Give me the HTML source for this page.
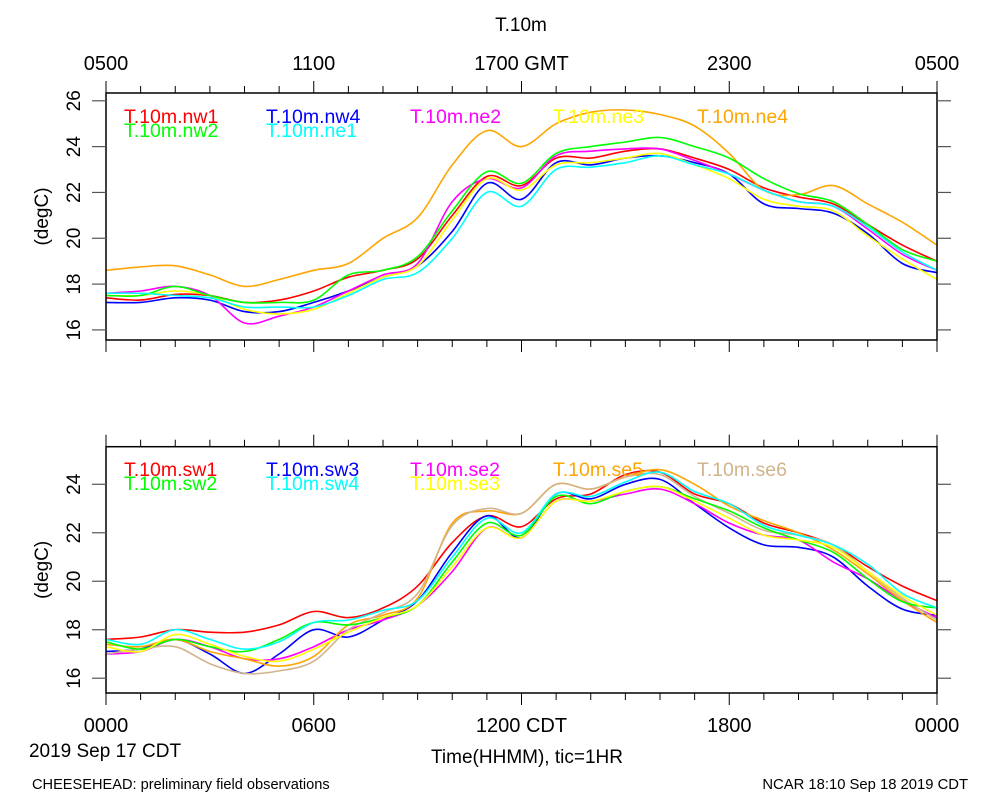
<!DOCTYPE html>
<html><head><meta charset="utf-8"><style>
body{margin:0;background:#fff}
svg{display:block;font-family:"Liberation Sans",Arial,sans-serif}
</style></head><body>
<svg id="chart" width="1000" height="800" viewBox="0 0 1000 800"></svg>
<script>
const hours = [0,1,2,3,4,5,6,7,8,9,10,11,12,13,14,15,16,17,18,19,20,21,22,23,24];
const topNames = ["T.10m.nw1","T.10m.nw4","T.10m.ne2","T.10m.ne3","T.10m.ne4","T.10m.nw2","T.10m.ne1"];
const nw1 = [17.4,17.3,17.55,17.5,17.2,17.3,17.7,18.3,18.6,19.1,21.0,22.7,22.3,23.5,23.5,23.8,23.9,23.5,23.0,22.2,21.8,21.5,20.6,19.7,19.0];
const nw4 = [17.2,17.2,17.4,17.3,16.8,16.8,17.2,17.7,18.3,18.8,20.3,22.4,21.7,23.3,23.2,23.5,23.6,23.3,22.8,21.5,21.3,21.1,20.2,18.9,18.5];
const ne2 = [17.6,17.7,17.9,17.5,16.3,16.6,17.0,17.7,18.4,18.9,21.6,22.6,22.2,23.6,23.8,23.9,23.9,23.4,22.8,22.1,21.6,21.4,20.4,19.3,18.6];
const ne3 = [17.5,17.5,17.7,17.5,16.9,16.7,16.9,17.6,18.3,18.8,20.8,22.6,22.1,23.2,23.3,23.5,23.7,23.2,22.6,21.7,21.4,21.2,20.1,19.1,18.2];
const ne4 = [18.6,18.75,18.8,18.4,17.9,18.2,18.6,18.9,20.0,20.9,23.2,24.7,24.0,25.0,25.5,25.6,25.4,24.9,23.7,22.1,21.9,22.3,21.5,20.7,19.7];
const nw2 = [17.5,17.5,17.9,17.5,17.2,17.2,17.3,18.4,18.6,19.2,21.2,22.9,22.4,23.7,24.0,24.2,24.4,24.0,23.5,22.6,21.95,21.6,20.6,19.5,19.0];
const ne1 = [17.6,17.6,17.5,17.4,17.0,17.0,17.0,17.5,18.2,18.5,20.0,22.0,21.4,23.0,23.1,23.3,23.6,23.2,22.8,22.1,21.6,21.4,20.5,19.4,18.6];
const botNames = ["T.10m.sw1","T.10m.sw3","T.10m.se2","T.10m.se5","T.10m.se6","T.10m.sw2","T.10m.sw4","T.10m.se3"];
const sw1 = [17.6,17.7,18.0,17.9,17.9,18.2,18.75,18.5,18.9,19.8,21.6,22.7,22.25,23.4,23.6,24.4,24.5,23.6,23.2,22.4,22.0,21.5,20.6,19.8,19.2];
const sw3 = [17.1,17.2,17.6,17.0,16.2,17.0,18.0,17.7,18.4,19.2,21.2,22.7,21.8,23.6,23.4,24.0,24.2,23.2,22.2,21.5,21.4,21.0,19.8,18.85,18.6];
const se2 = [17.0,17.1,17.6,17.3,16.8,16.8,17.3,18.0,18.4,19.0,20.4,22.2,21.8,23.3,23.3,23.6,23.8,23.2,22.4,21.9,21.7,20.8,20.1,19.2,18.5];
const se5 = [17.4,17.3,17.6,17.1,16.8,16.5,16.9,18.2,18.6,19.3,22.4,22.9,22.8,24.0,23.8,24.3,24.6,24.0,23.1,22.5,22.0,21.3,20.3,19.2,18.3];
const se6 = [17.0,17.2,17.3,16.6,16.2,16.3,16.7,18.0,18.7,19.5,22.3,23.0,22.8,24.0,23.8,24.3,24.4,23.5,22.8,22.1,21.9,21.5,20.4,19.3,18.4];
const sw2 = [17.5,17.2,17.6,17.3,17.1,17.6,18.3,18.2,18.5,19.0,20.8,22.4,21.9,23.5,23.2,23.7,23.9,23.4,22.9,22.2,21.7,21.2,20.1,19.15,18.9];
const sw4 = [17.6,17.4,18.0,17.6,17.2,17.5,18.3,18.4,18.8,19.2,21.0,22.6,22.0,23.6,23.5,24.1,24.5,23.7,23.2,22.3,21.9,21.5,20.7,19.5,18.9];
const se3 = [17.3,17.1,17.8,17.4,16.9,16.7,17.2,17.9,18.5,19.0,20.6,22.2,21.8,23.3,23.3,23.7,23.9,23.3,22.6,21.9,21.7,21.4,20.4,19.4,18.6];
const topTicks = [16,18,20,22,24,26];
const botTicks = [16,18,20,22,24];
const topAxisLabels = ["0500","1100","1700 GMT","2300","0500"];
const botAxisLabels = ["0000","0600","1200 CDT","1800","0000"];

const NS="http://www.w3.org/2000/svg";
const svg=document.getElementById('chart');
function el(tag,attrs,parent){const e=document.createElementNS(NS,tag);for(const k in attrs)e.setAttribute(k,attrs[k]);(parent||svg).appendChild(e);return e;}
const X0=106,X1=937;
function xs(h){return X0+(X1-X0)*h/24;}
function makeY(top,bot,vTop,vBot){return v=>top+(vTop-v)/(vTop-vBot)*(bot-top);}
function path(arr,ys){
  const p=arr.map((v,i)=>[xs(hours[i]),ys(v)]);
  let d="M"+p[0][0].toFixed(1)+","+p[0][1].toFixed(1);
  for(let i=0;i<p.length-1;i++){
    const p0=p[Math.max(0,i-1)],p1=p[i],p2=p[i+1],p3=p[Math.min(p.length-1,i+2)];
    const c1=[p1[0]+(p2[0]-p0[0])/6,p1[1]+(p2[1]-p0[1])/6];
    const c2=[p2[0]-(p3[0]-p1[0])/6,p2[1]-(p3[1]-p1[1])/6];
    d+=" C"+c1[0].toFixed(1)+","+c1[1].toFixed(1)+" "+c2[0].toFixed(1)+","+c2[1].toFixed(1)+" "+p2[0].toFixed(1)+","+p2[1].toFixed(1);
  }
  return d;
}
function text(x,y,s,size,anchor,fill,rot){
  const t=el('text',{x:x,y:y,'font-size':size,'text-anchor':anchor||'start',fill:fill||'#000'});
  if(rot)t.setAttribute('transform','rotate(-90 '+x+' '+y+')');
  t.textContent=s;return t;
}
function panel(name,top,bot,vTop,vBot,ticks,series,names,colors,legY){
  const g=el('g',{});
  
  
  const ys=makeY(top,bot,vTop,vBot);
  const clipId=name+'-clip';
  const cp=el('clipPath',{id:clipId},g);el('rect',{x:X0,y:top,width:X1-X0,height:bot-top},cp);
  series.forEach((s,i)=>{
    const p=el('path',{d:path(s,ys),fill:'none',stroke:colors[i],'stroke-width':1.6,'clip-path':'url(#'+clipId+')'},g);
    
    
  });
  const r=el('rect',{x:X0,y:top,width:X1-X0,height:bot-top,fill:'none',stroke:'#000','stroke-width':1.5},g);
  
  
  for(let h=0;h<=24;h++){
    const L=(h%6===0)?12:7;
    el('line',{x1:xs(h),x2:xs(h),y1:top,y2:top-L,stroke:'#000','stroke-width':1},g);
    el('line',{x1:xs(h),x2:xs(h),y1:bot,y2:bot+L,stroke:'#000','stroke-width':1},g);
  }
  ticks.forEach(v=>{
    el('line',{x1:X0,x2:X0-14,y1:ys(v),y2:ys(v),stroke:'#555','stroke-width':1.2},g);
    el('line',{x1:X1,x2:X1+14,y1:ys(v),y2:ys(v),stroke:'#555','stroke-width':1.2},g);
    const t=text(80,ys(v),String(v),19,'middle','#000',true);
    
    
  });
  const yt=text(48,(top+bot)/2,'(degC)',19,'middle','#000',true);
  
  
  const lx=[124,266,410,553,697];
  names.forEach((n,i)=>{
    const row=i<5?0:1,col=i<5?i:i-5;
    const t=text(lx[col],legY+row*14,n,19.5,'start',colors[i]);
    
    
  });
}
panel('top-panel',93,340,26.34,15.56,topTicks,[nw1,nw4,ne2,ne3,ne4,nw2,ne1],topNames,
  ['#ff0000','#0000ff','#ff00ff','#ffff00','#ffa500','#00ff00','#00ffff'],123);
panel('bottom-panel',446.7,693,25.55,15.39,botTicks,[sw1,sw3,se2,se5,se6,sw2,sw4,se3],botNames,
  ['#ff0000','#0000ff','#ff00ff','#ffa500','#d2b48c','#00ff00','#00ffff','#ffff00'],476);
const title=text(521,31,'T.10m',19,'middle');


topAxisLabels.forEach((s,i)=>{
  const t=text(xs(i*6),70,s,20,'middle');
  
  
});
botAxisLabels.forEach((s,i)=>{
  const t=text(xs(i*6),732,s,20,'middle');
  
  
});
const dt=text(105,757,'2019 Sep 17 CDT',19,'middle');


const xt=text(527,763,'Time(HHMM), tic=1HR',19,'middle');


const f1=text(32,789,'CHEESEHEAD: preliminary field observations',14.6,'start');


const f2=text(968,789,'NCAR 18:10 Sep 18 2019 CDT',14.8,'end');


</script>
</body></html>
